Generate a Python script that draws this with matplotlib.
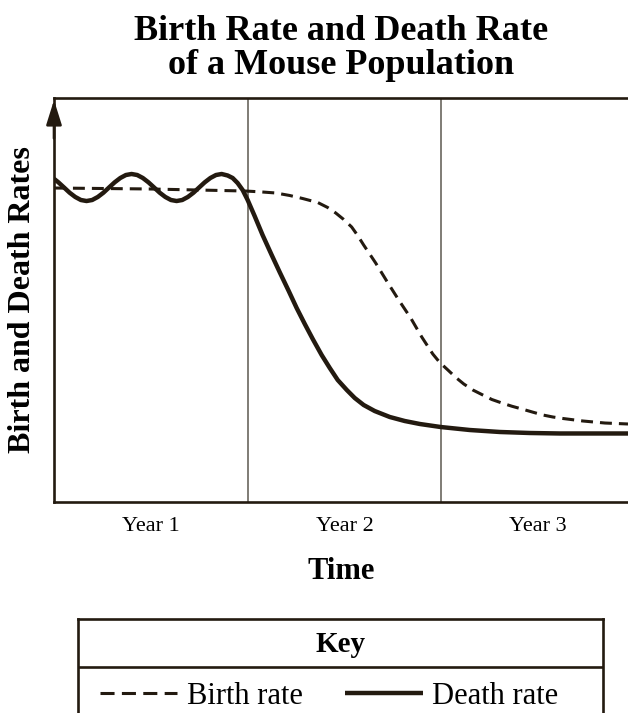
import matplotlib
matplotlib.use("Agg")
import matplotlib.pyplot as plt
from matplotlib.lines import Line2D

plt.rcParams["font.family"] = ["Liberation Serif", "DejaVu Serif"]

# -----------------------------
# Data (years on x, relative rate on y)
# -----------------------------
death_x = [0.0, 0.0226, 0.0517, 0.0807, 0.1098, 0.1389, 0.1680, 0.1970, 0.2261,
           0.2552, 0.2842, 0.3133, 0.3424, 0.3714, 0.4005, 0.4296, 0.4587,
           0.4877, 0.5168, 0.5459, 0.5749, 0.6040, 0.6331, 0.6621, 0.6912,
           0.7203, 0.7494, 0.7784, 0.8075, 0.8366, 0.8656, 0.8966, 0.9225,
           0.948, 0.974, 1.0, 1.036, 1.077, 1.124, 1.165, 1.212, 1.253, 1.295,
           1.336, 1.382, 1.424, 1.465, 1.512, 1.553, 1.599, 1.656, 1.734,
           1.811, 1.889, 1.997, 2.147, 2.302, 2.457, 2.612, 2.964]
death_y = [80.0, 79.13, 77.85, 76.56, 75.50, 74.75, 74.50, 74.75, 75.50,
           76.56, 77.85, 79.13, 80.20, 80.94, 81.19, 80.94, 80.20,
           79.13, 77.85, 76.56, 75.50, 74.75, 74.50, 74.75, 75.50,
           76.56, 77.85, 79.13, 80.20, 80.94, 81.19, 80.82, 80.20,
           78.96, 77.23, 74.75, 70.79, 66.09, 61.14, 56.93, 52.23, 48.02, 44.06,
           40.35, 36.39, 33.17, 30.20, 27.72, 25.74, 24.01, 22.52, 21.04,
           20.05, 19.31, 18.56, 17.82, 17.33, 17.08, 16.96, 16.96]

birth_x = [0.0, 0.494, 0.985, 1.062, 1.145, 1.217, 1.284, 1.362, 1.413, 1.455,
           1.496, 1.537, 1.568, 1.599, 1.630, 1.661, 1.718, 1.780, 1.842, 1.899,
           1.956, 1.992, 2.034, 2.075, 2.116, 2.163, 2.214, 2.261, 2.313, 2.364,
           2.416, 2.473, 2.525, 2.576, 2.628, 2.731, 2.845, 2.964]
birth_y = [77.72, 77.48, 76.98, 76.78, 76.49, 75.87, 75.12, 74.13, 72.90, 71.53,
           69.93, 68.07, 65.97, 63.61, 61.39, 59.16, 54.70, 50.00, 45.54, 40.84,
           36.63, 34.53, 32.67, 30.82, 29.21, 27.72, 26.49, 25.37, 24.50, 23.71,
           23.02, 22.23, 21.53, 21.04, 20.67, 20.05, 19.55, 19.31]

year_ticks = [0.5, 1.5, 2.5]
year_labels = ["Year 1", "Year 2", "Year 3"]
year_bounds = [1, 2]

ink = "#231a10"
grey = "#5c5850"

# -----------------------------
# Plot
# -----------------------------
fig = plt.figure(figsize=(6.28, 7.13), dpi=100)
ax = fig.add_axes([54 / 628, 211 / 713, 1 - 54 / 628, 404 / 713])

for b in year_bounds:
    ax.axvline(b, color=grey, lw=1.1, zorder=1)

ax.plot(birth_x, birth_y, color=ink, lw=2.2, dashes=(3.9, 2.3), zorder=2)
death_line, = ax.plot(death_x, death_y, color=ink, lw=3.2, label="Death rate",
                      solid_capstyle="butt", solid_joinstyle="round", zorder=3)

ax.set_xlim(0, 2.964)
ax.set_ylim(0, 100)

ax.spines["right"].set_visible(False)
for s in ["left", "bottom", "top"]:
    ax.spines[s].set_color(ink)
    ax.spines[s].set_linewidth(1.9)

ax.set_xticks(year_ticks)
ax.set_xticklabels(year_labels, fontsize=16)
ax.tick_params(axis="x", length=0, pad=11)
ax.set_yticks([])

# arrow on the y axis
ax.annotate("", xy=(0, 0.995), xytext=(0, 0.9), xycoords="axes fraction",
            arrowprops=dict(arrowstyle="-|>,head_length=1.5,head_width=0.47",
                            color=ink, lw=1.9, shrinkA=0, shrinkB=0,
                            mutation_scale=10))

# -----------------------------
# Labels
# -----------------------------
ax.set_title("Birth Rate and Death Rate\nof a Mouse Population",
             fontsize=26, fontweight="bold", linespacing=1.07, pad=17)
ax.set_xlabel("Time", fontsize=22, fontweight="bold", labelpad=15)
ax.set_ylabel("Birth and Death Rates", fontsize=23, fontweight="bold", labelpad=12)

# -----------------------------
# Key box
# -----------------------------
kax = fig.add_axes([78 / 628, -35 / 713, 525 / 628, 129 / 713])
kax.set_xlim(78, 603)
kax.set_ylim(748, 619)
kax.set_xticks([])
kax.set_yticks([])
for s in kax.spines.values():
    s.set_color(ink)
    s.set_linewidth(1.9)
kax.axhline(667, color=ink, lw=1.9)
kax.text(340.5, 644, "Key", fontsize=21, fontweight="bold",
         ha="center", va="center")

# key sample with slightly longer dashes, as in the printed key
birth_key = Line2D([], [], color=ink, lw=2.2, dashes=(4.6, 2.4), label="Birth rate")
kax.legend(handles=[birth_key, death_line], ncol=2, frameon=False,
           fontsize=22, handlelength=2.55, handletextpad=0.3,
           columnspacing=1.4, loc="center",
           bbox_to_anchor=(329, 696), bbox_transform=kax.transData)

fig.savefig("out.png", dpi=100)
